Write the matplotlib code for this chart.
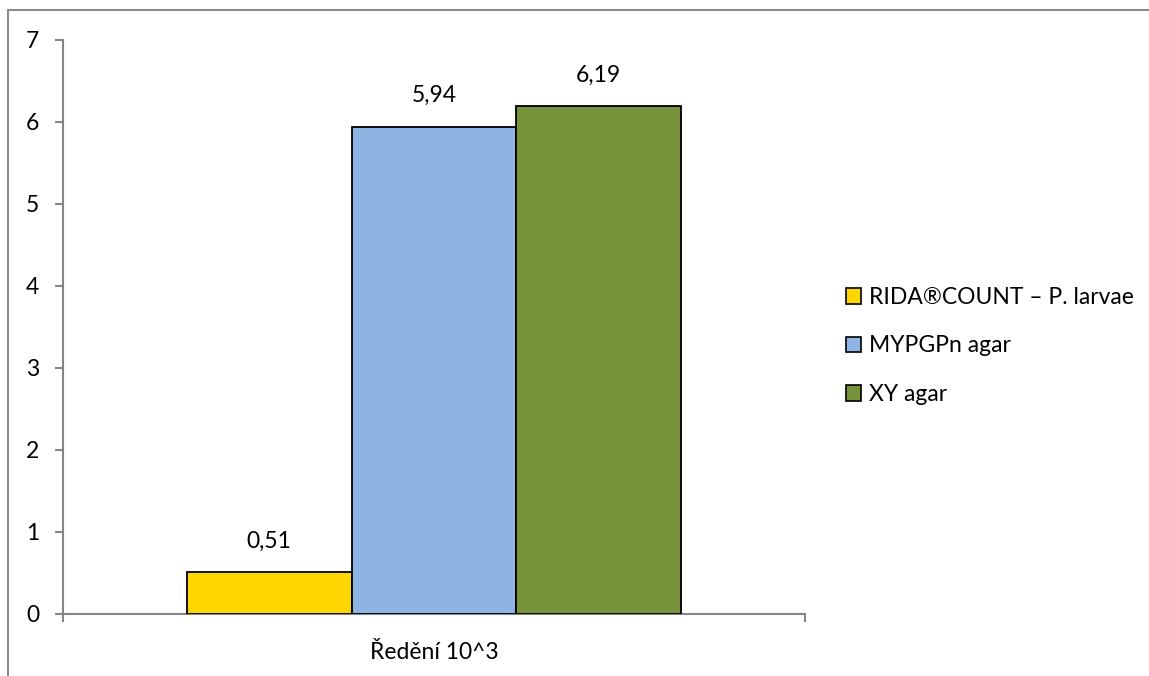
import matplotlib.pyplot as plt
from matplotlib.lines import Line2D
from matplotlib.patches import Patch

# Data
category = 'Ředění 10^3'
series = ['RIDA®COUNT – P. larvae', 'MYPGPn agar', 'XY agar']
values = [0.51, 5.94, 6.19]
labels = ['0,51', '5,94', '6,19']
colors = ['#FFD700', '#8EB4E3', '#77933C']

plt.rcParams['font.family'] = ['Lato', 'DejaVu Sans']
fs = 16.5

fig = plt.figure(figsize=(11.49, 6.76), dpi=100)
ax = fig.add_axes([63 / 1149, 1 - 614 / 676, (805 - 63) / 1149, (614 - 40) / 676])

# Bars side by side within one category
width = 0.222
offsets = [-width, 0, width]
for off, v, c, lab, name in zip(offsets, values, colors, labels, series):
    ax.bar(off, v, width=width, color=c, edgecolor='black', linewidth=1.3, label=name, zorder=3)
    ax.annotate(lab, (off, v), xytext=(0, 15), textcoords='offset points',
                ha='center', va='bottom', fontsize=fs)

ax.set_xlim(-0.5, 0.5)
ax.set_ylim(0, 7)
ax.set_yticks(range(0, 8))
ax.set_xticks([-0.5, 0.5])
ax.set_xticklabels(['', ''])
ax.set_xticks([0], minor=True)
ax.set_xticklabels([category], minor=True, fontsize=fs)

for s in ['top', 'right']:
    ax.spines[s].set_visible(False)
for s in ['left', 'bottom']:
    ax.spines[s].set_color('#868686')
    ax.spines[s].set_linewidth(1.5)

ax.tick_params(axis='y', direction='out', length=6, width=1.5, color='#868686',
               pad=11, labelsize=fs)
ax.tick_params(axis='x', which='major', direction='out', length=6, width=1.5, color='#868686')
ax.tick_params(axis='x', which='minor', length=0, pad=20)

# Legend on the right
handles = [Patch(facecolor=c, edgecolor='black', linewidth=1.2) for c in colors]
fig.legend(handles, series, loc='upper left', bbox_to_anchor=(846 / 1149, 1 - 287 / 676),
           frameon=False, fontsize=fs, handlelength=0.65, handleheight=0.65,
           handletextpad=0.35, labelspacing=1.2, borderpad=0, borderaxespad=0)

# Outer chart border (cropped on right and bottom)
fig.add_artist(Line2D([8 / 1149, 8 / 1149], [0, 1 - 10 / 676], color='#8c8c8c', linewidth=1.5))
fig.add_artist(Line2D([8 / 1149, 1], [1 - 10 / 676, 1 - 10 / 676], color='#8c8c8c', linewidth=1.5))

plt.savefig('out.png', dpi=100)
plt.close()
